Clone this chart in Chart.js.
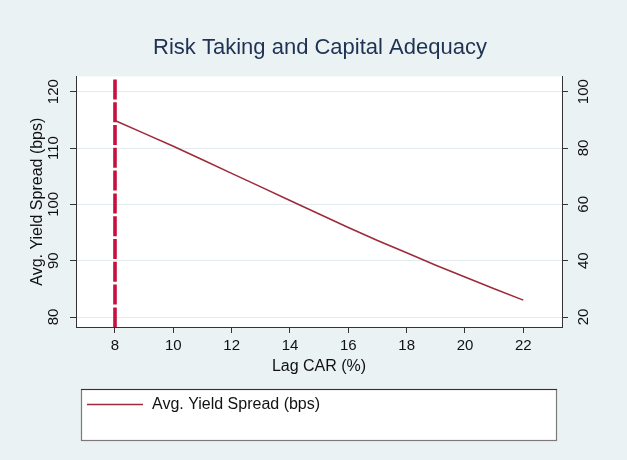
<!DOCTYPE html>
<html>
<head>
<meta charset="utf-8">
<title>Risk Taking and Capital Adequacy</title>
<script src="https://cdn.jsdelivr.net/npm/chart.js@4.4.1/dist/chart.umd.min.js"></script>
<style>
  html, body { margin: 0; padding: 0; background: #EAF2F3; }
  #wrap { width: 627px; height: 460px; }
</style>
</head>
<body>
<div id="wrap"><canvas id="chart" width="627" height="460"></canvas></div>
<script>
// Lagged capital adequacy ratio (%) and average yield spread (bps)
const lagCar = [8, 9, 10, 11, 12, 13, 14, 15, 16, 17, 18, 19, 20, 21, 22];
const avgSpread = [114.9, 112.6, 110.3, 107.9, 105.5, 103.1, 100.7, 98.3, 95.9, 93.6, 91.4, 89.2, 87.1, 85.0, 83.0];

// Axis ticks
const xTicks = [8, 10, 12, 14, 16, 18, 20, 22];
const leftTicks = [80, 90, 100, 110, 120];
const rightTicks = [20, 40, 60, 80, 100];

// Regulatory minimum CAR, marked with a dashed vertical line
const minimumCar = 8;

const seriesLabel = 'Avg. Yield Spread (bps)';
const FONT = '"Liberation Sans", Arial, Helvetica, sans-serif';
const BG = '#EAF2F3';
const AXIS = '#333333';
const TEXT = '#111111';

const setTicks = list => scale => { scale.ticks = list.map(v => ({ value: v })); };

// Page background and white plot region
const backdrop = {
  id: 'backdrop',
  beforeDraw(chart) {
    const { ctx, chartArea: a, width, height } = chart;
    ctx.save();
    ctx.fillStyle = BG;
    ctx.fillRect(0, 0, width, height);
    ctx.fillStyle = '#FFFFFF';
    ctx.fillRect(a.left, a.top, a.right - a.left, a.bottom - a.top);
    ctx.restore();
  }
};

// Dashed vertical line at the minimum CAR
const refLine = {
  id: 'refLine',
  beforeDatasetsDraw(chart) {
    const { ctx, chartArea: a, scales: { x } } = chart;
    const px = x.getPixelForValue(minimumCar);
    ctx.save();
    ctx.beginPath();
    ctx.rect(a.left, a.top, a.right - a.left, a.bottom - a.top);
    ctx.clip();
    ctx.strokeStyle = '#C8103E';
    ctx.lineWidth = 3.6;
    ctx.lineCap = 'butt';
    ctx.setLineDash([20, 2.8]);
    ctx.beginPath();
    ctx.moveTo(px, a.top + 3);
    ctx.lineTo(px, a.bottom);
    ctx.stroke();
    ctx.restore();
  }
};

// Boxed key below the plot
const keyBox = {
  id: 'keyBox',
  afterDraw(chart) {
    const { ctx } = chart;
    const ds = chart.data.datasets[0];
    const L = 81, T = 389, R = 557, B = 441;
    ctx.save();
    ctx.fillStyle = '#FFFFFF';
    ctx.fillRect(L, T, R - L, B - T);
    ctx.lineWidth = 1.2;
    ctx.strokeStyle = '#7A7A7A';
    ctx.strokeRect(L + 0.5, T + 0.5, R - L - 1, B - T - 1);
    ctx.strokeStyle = '#333333';
    ctx.beginPath();
    ctx.moveTo(L, T + 0.5);
    ctx.lineTo(R, T + 0.5);
    ctx.stroke();
    ctx.strokeStyle = ds.borderColor;
    ctx.lineWidth = ds.borderWidth;
    ctx.beginPath();
    ctx.moveTo(87, 404.5);
    ctx.lineTo(143, 404.5);
    ctx.stroke();
    ctx.fillStyle = TEXT;
    ctx.font = '16px ' + FONT;
    ctx.textBaseline = 'middle';
    ctx.textAlign = 'left';
    ctx.fillText(ds.label, 152, 405);
    ctx.restore();
  }
};

new Chart(document.getElementById('chart'), {
  type: 'line',
  data: {
    datasets: [{
      label: seriesLabel,
      data: lagCar.map((x, i) => ({ x: x, y: avgSpread[i] })),
      borderColor: '#9E2B3B',
      borderWidth: 1.6,
      pointRadius: 0,
      tension: 0,
      fill: false,
      xAxisID: 'x',
      yAxisID: 'y'
    }]
  },
  options: {
    responsive: false,
    animation: false,
    devicePixelRatio: 1,
    layout: { padding: { left: 13, right: 0, top: 0, bottom: 73 } },
    plugins: {
      legend: { display: false },
      tooltip: { enabled: false },
      title: {
        display: true,
        text: 'Risk Taking and Capital Adequacy',
        color: '#1F3254',
        font: { family: FONT, size: 22, weight: 'normal' },
        padding: { top: 35, bottom: 15 }
      }
    },
    scales: {
      x: {
        type: 'linear',
        position: 'bottom',
        min: 6.663,
        max: 23.327,
        afterBuildTicks: setTicks(xTicks),
        afterFit: s => { s.height = 60; },
        grid: { drawOnChartArea: false, drawTicks: true, tickLength: 6, tickColor: AXIS, tickWidth: 1 },
        border: { display: true, color: AXIS, width: 1 },
        ticks: { color: TEXT, font: { family: FONT, size: 15 }, padding: 4, minRotation: 0, maxRotation: 0, autoSkip: false },
        title: { display: true, text: 'Lag CAR (%)', color: TEXT, font: { family: FONT, size: 16 }, padding: { top: 0, bottom: 10.4 } }
      },
      y: {
        type: 'linear',
        position: 'left',
        min: 78.23,
        max: 122.71,
        afterBuildTicks: setTicks(leftTicks),
        afterFit: s => { s.width = 63; },
        grid: { color: '#E2EBEE', lineWidth: 1, drawTicks: true, tickLength: 6, tickColor: AXIS, tickWidth: 1 },
        border: { display: true, color: AXIS, width: 1 },
        ticks: { color: TEXT, font: { family: FONT, size: 15 }, padding: 4, minRotation: 90, maxRotation: 90, crossAlign: 'center' },
        title: { display: true, text: seriesLabel, color: TEXT, font: { family: FONT, size: 16 }, padding: { top: 15, bottom: 0 } }
      },
      y2: {
        type: 'linear',
        position: 'right',
        display: true,
        min: 16.46,
        max: 105.42,
        afterBuildTicks: setTicks(rightTicks),
        afterFit: s => { s.width = 65; },
        grid: { drawOnChartArea: false, drawTicks: true, tickLength: 6, tickColor: AXIS, tickWidth: 1 },
        border: { display: true, color: AXIS, width: 1 },
        ticks: { color: TEXT, font: { family: FONT, size: 15 }, padding: 3, minRotation: 90, maxRotation: 90, crossAlign: 'center' }
      }
    }
  },
  plugins: [backdrop, refLine, keyBox]
});
</script>
</body>
</html>
